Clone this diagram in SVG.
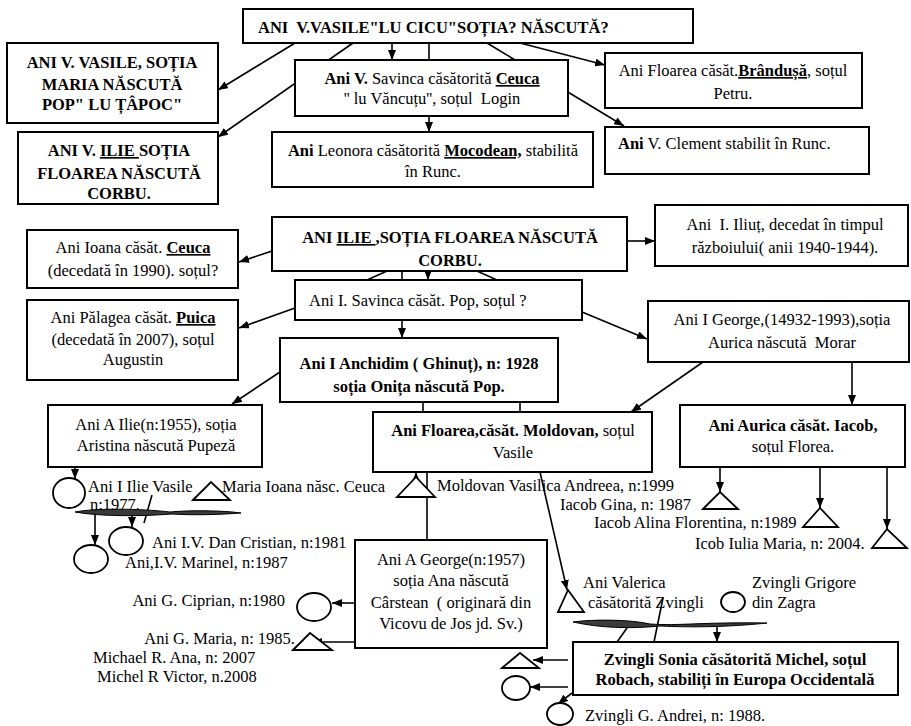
<svg xmlns="http://www.w3.org/2000/svg" width="911" height="726" viewBox="0 0 911 726">
<defs>
<marker id="ah" markerUnits="userSpaceOnUse" markerWidth="10" markerHeight="8" refX="10" refY="4" orient="auto">
<path d="M0,0 L10,4 L0,8 Z" fill="#000"/>
</marker>
<style>
text { font-family: "Liberation Serif","Times New Roman",serif; font-size:16.5px; fill:#000; }
.b { font-weight:bold; }
.u { text-decoration: underline; }
.m { text-anchor: middle; }
.e { text-anchor: end; }
.box { fill:#fff; stroke:#000; stroke-width:2; }
.ln { fill:none; stroke:#000; stroke-width:1.6; }
.ar { marker-end:url(#ah); }
.sym { fill:#fff; stroke:#000; stroke-width:1.8; }
.scr { fill:#3a3a3a; stroke:#000; stroke-width:1; }
</style>
</defs>
<rect width="911" height="726" fill="#fff"/>

<g id="connectors">
<line class="ln ar" x1="295" y1="43" x2="218" y2="90"/>
<line class="ln ar" x1="353" y1="43" x2="218" y2="137"/>
<line class="ln ar" x1="392" y1="43" x2="392" y2="60"/>
<line class="ln ar" x1="429" y1="43" x2="429" y2="132"/>
<line class="ln ar" x1="487" y1="43" x2="624" y2="126"/>
<line class="ln ar" x1="520" y1="43" x2="605" y2="65"/>

<line class="ln ar" x1="272" y1="251" x2="239" y2="262"/>
<line class="ln ar" x1="295" y1="308" x2="239" y2="328"/>
<line class="ln ar" x1="627" y1="241" x2="655" y2="241"/>
<path class="ln ar" d="M387,271 L367,280 M280,372 L232,404"/>
<line class="ln ar" x1="402" y1="271" x2="402" y2="338"/>
<line class="ln ar" x1="428" y1="271" x2="428" y2="280"/>
<polyline class="ln ar" points="477,271 497,280 582,312 647,339"/>
<line class="ln" x1="423" y1="402" x2="423" y2="412"/>
<line class="ln" x1="520" y1="402" x2="520" y2="412"/>
<line class="ln ar" x1="703" y1="362" x2="631" y2="412"/>
<line class="ln ar" x1="852" y1="362" x2="852" y2="405"/>

<line class="ln ar" x1="75" y1="467" x2="75" y2="479"/>
<line class="ln ar" x1="95" y1="514" x2="95" y2="545"/>
<line class="ln ar" x1="132" y1="514" x2="132" y2="527"/>
<line class="ln" x1="152" y1="495" x2="144" y2="523"/>
<line class="ln" x1="427" y1="472" x2="427" y2="540"/>
<line class="ln ar" x1="416" y1="480" x2="416" y2="472"/>
<line class="ln ar" x1="540" y1="472" x2="567" y2="590"/>
<line class="ln ar" x1="355" y1="603" x2="332" y2="603"/>
<line class="ln ar" x1="355" y1="642" x2="312" y2="642"/>
<line class="ln ar" x1="720" y1="467" x2="720" y2="492"/>
<line class="ln ar" x1="820" y1="467" x2="820" y2="508"/>
<line class="ln ar" x1="887" y1="467" x2="887" y2="529"/>
<line class="ln ar" x1="568" y1="660" x2="533" y2="660"/>
<line class="ln ar" x1="568" y1="687" x2="530" y2="687"/>
<line class="ln ar" x1="572" y1="693" x2="558" y2="704"/>
<line class="ln" x1="627" y1="628" x2="617" y2="642"/>
<line class="ln" x1="663" y1="598" x2="654" y2="642"/>
<line class="ln ar" x1="717" y1="626" x2="717" y2="642"/>
<path class="scr" d="M75,512 C95,508 140,508.5 170,512 C190,510 225,510.5 241,513 C222,514.5 195,515.5 172,514 C140,516.5 100,516.5 75,512 Z"/>
<path class="scr" d="M573,622 C595,619 630,619.5 650,624 C680,626 700,622 767,623 C740,626 700,628 660,626 C630,629 600,628 573,622 Z"/>
</g>

<g id="n-top">
<rect class="box" x="243" y="9" width="450" height="34"/>
<text class="b" x="258" y="33" xml:space="preserve">ANI  V.VASILE"LU CICU"SOȚIA? NĂSCUTĂ?</text>
</g>
<g id="n-vasile">
<rect class="box" x="7" y="43" width="211" height="80"/>
<text class="b m" x="112" y="68">ANI V. VASILE, SOȚIA</text>
<text class="b m" x="112" y="90">MARIA NĂSCUTĂ</text>
<text class="b m" x="112" y="110">POP" LU ȚÂPOC"</text>
</g>
<g id="n-ilie-v">
<rect class="box" x="18" y="132" width="200" height="72"/>
<text class="b m" x="119" y="156">ANI V. <tspan class="u">ILIE </tspan>SOȚIA</text>
<text class="b m" x="119" y="179">FLOAREA NĂSCUTĂ</text>
<text class="b m" x="119" y="199">CORBU.</text>
</g>
<g id="n-savinca-v">
<rect class="box" x="295" y="60" width="273" height="56"/>
<text class="m" x="432" y="84"><tspan class="b">Ani V.</tspan> Savinca căsătorită <tspan class="b u">Ceuca</tspan></text>
<text class="m" x="432" y="104" xml:space="preserve">'' lu Văncuțu'', soțul  Login</text>
</g>
<g id="n-leonora">
<rect class="box" x="272" y="132" width="321" height="55"/>
<text class="m" x="433" y="156"><tspan class="b">Ani</tspan> Leonora căsătorită <tspan class="b u">Mocodean,</tspan> stabilită</text>
<text class="m" x="433" y="177">în Runc.</text>
</g>
<g id="n-floarea-b">
<rect class="box" x="605" y="53" width="257" height="55"/>
<text class="m" x="733" y="76">Ani Floarea căsăt.<tspan class="b u">Brândușă</tspan>, soțul</text>
<text class="m" x="733" y="99">Petru.</text>
</g>
<g id="n-clement">
<rect class="box" x="605" y="127" width="264" height="47"/>
<text x="618" y="149"><tspan class="b">Ani</tspan> V. Clement stabilit în Runc.</text>
</g>

<g id="n-ilie">
<rect class="box" x="272" y="217" width="355" height="54"/>
<text class="b m" x="450" y="243">ANI <tspan class="u">ILIE </tspan>,SOȚIA FLOAREA NĂSCUTĂ</text>
<text class="b m" x="450" y="266">CORBU.</text>
</g>
<g id="n-ioana">
<rect class="box" x="27" y="230" width="211" height="58"/>
<text class="m" x="133" y="253">Ani Ioana căsăt. <tspan class="b u">Ceuca</tspan></text>
<text class="m" x="133" y="276">(decedată în 1990). soțul?</text>
</g>
<g id="n-palagea">
<rect class="box" x="27" y="300" width="211" height="80"/>
<text class="m" x="133" y="323">Ani Pălagea căsăt. <tspan class="b u">Puica</tspan></text>
<text class="m" x="133" y="345">(decedată în 2007), soțul</text>
<text class="m" x="133" y="365">Augustin</text>
</g>
<g id="n-savinca-i">
<rect class="box" x="295" y="280" width="287" height="40"/>
<text x="309" y="306">Ani I. Savinca căsăt. Pop, soțul ?</text>
</g>
<g id="n-anchidim">
<rect class="box" x="280" y="338" width="278" height="64"/>
<text class="b m" x="419" y="369">Ani I Anchidim ( Ghinuț), n: 1928</text>
<text class="b m" x="419" y="392">soția Onița născută Pop.</text>
</g>
<g id="n-iliut">
<rect class="box" x="655" y="205" width="253" height="61"/>
<text class="m" x="785" y="230" xml:space="preserve">Ani  I. Iliuț, decedat în timpul</text>
<text class="m" x="785" y="253">războiului( anii 1940-1944).</text>
</g>
<g id="n-george-i">
<rect class="box" x="648" y="301" width="261" height="61"/>
<text class="m" x="782" y="325">Ani I George,(14932-1993),soția</text>
<text class="m" x="782" y="348" xml:space="preserve">Aurica născută  Morar</text>
</g>

<g id="n-ilie-a">
<rect class="box" x="48" y="405" width="214" height="62"/>
<text class="m" x="156" y="430">Ani A Ilie(n:1955), soția</text>
<text class="m" x="156" y="451">Aristina născută Pupeză</text>
</g>
<g id="n-floarea-m">
<rect class="box" x="373" y="412" width="279" height="60"/>
<text class="m" x="513" y="436"><tspan class="b">Ani Floarea,căsăt. Moldovan,</tspan> soțul</text>
<text class="m" x="513" y="458">Vasile</text>
</g>
<g id="n-aurica">
<rect class="box" x="680" y="405" width="225" height="62"/>
<text class="b m" x="793" y="431">Ani Aurica căsăt. Iacob,</text>
<text class="m" x="793" y="452">soțul Florea.</text>
</g>
<g id="n-george-a">
<rect class="box" x="355" y="540" width="192" height="108"/>
<text class="m" x="451" y="565">Ani A George(n:1957)</text>
<text class="m" x="451" y="586">soția Ana născută</text>
<text class="m" x="451" y="608" xml:space="preserve">Cârstean  ( originară din</text>
<text class="m" x="451" y="629">Vicovu de Jos jd. Sv.)</text>
</g>
<g id="n-sonia">
<rect class="box" x="573" y="642" width="325" height="53"/>
<text class="b m" x="735" y="665">Zvingli Sonia căsătorită Michel, soțul</text>
<text class="b m" x="735" y="685">Robach, stabiliți  în Europa Occidentală</text>
</g>

<g id="p-ilie-vasile">
<ellipse class="sym" cx="69" cy="493" rx="16" ry="15"/>
<text x="88" y="492">Ani I Ilie Vasile</text>
<text x="90" y="510">n:1977.</text>
</g>
<g id="p-maria-ioana">
<polygon class="sym" points="193,500 211,482 230,500"/>
<text x="222" y="492">Maria Ioana născ. Ceuca</text>
</g>
<g id="p-dan">
<ellipse class="sym" cx="126" cy="541" rx="17" ry="14"/>
<text x="152" y="548">Ani I.V. Dan Cristian, n:1981</text>
</g>
<g id="p-marinel">
<ellipse class="sym" cx="91" cy="559" rx="17" ry="14"/>
<text x="125" y="568">Ani,I.V. Marinel, n:1987</text>
</g>
<g id="p-moldovan">
<polygon class="sym" points="397,497 416,477 435,497"/>
<text x="437" y="491">Moldovan Vasilica Andreea, n:1999</text>
</g>
<g id="p-ciprian">
<ellipse class="sym" cx="314" cy="607" rx="17" ry="14"/>
<text class="e" x="285" y="606">Ani G. Ciprian, n:1980</text>
</g>
<g id="p-maria-g">
<polygon class="sym" points="293,650 310,633 332,650"/>
<text class="e" x="295" y="644">Ani G. Maria, n: 1985.</text>
<text x="93" y="663">Michael R. Ana, n: 2007</text>
<text x="97" y="682">Michel R Victor, n.2008</text>
</g>
<g id="p-gina">
<polygon class="sym" points="703,509 720,492 738,509"/>
<text x="560" y="510">Iacob Gina, n: 1987</text>
</g>
<g id="p-alina">
<polygon class="sym" points="803,527 820,508 838,527"/>
<text x="594" y="528">Iacob Alina Florentina, n:1989</text>
</g>
<g id="p-iulia">
<polygon class="sym" points="872,548 887,529 907,548"/>
<text x="695" y="549">Icob Iulia Maria, n: 2004.</text>
</g>
<g id="p-valerica">
<polygon class="sym" points="558,612 568,590 584,612"/>
<text x="583" y="588">Ani Valerica</text>
<text x="588" y="608">căsătorită Zvingli</text>
</g>
<g id="p-grigore">
<ellipse class="sym" cx="733" cy="602" rx="12" ry="10"/>
<text x="752" y="588">Zvingli Grigore</text>
<text x="752" y="608">din Zagra</text>
</g>
<g id="p-sonia-t">
<polygon class="sym" points="502,668 520,653 539,668"/>
</g>
<g id="p-sonia-c">
<ellipse class="sym" cx="516" cy="688" rx="14" ry="12"/>
</g>
<g id="p-andrei">
<ellipse class="sym" cx="560" cy="714" rx="13" ry="11"/>
<text x="585" y="721">Zvingli G. Andrei, n: 1988.</text>
</g>
</svg>
